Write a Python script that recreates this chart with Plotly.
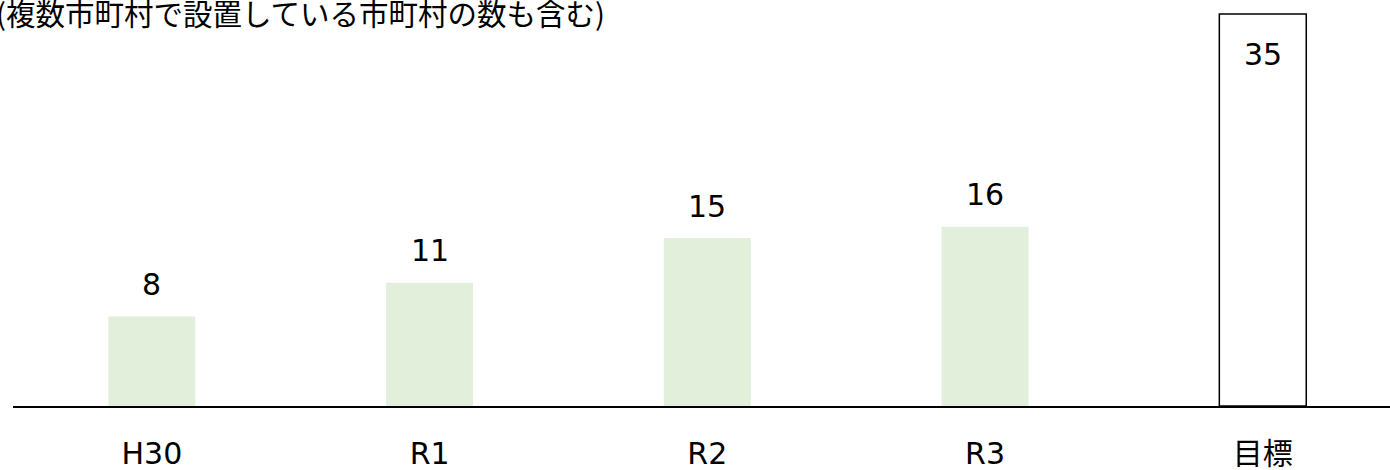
import plotly.graph_objects as go

categories = ["H30", "R1", "R2", "R3", "目標"]
values = [8, 11, 15, 16, 35]
fill_colors = ["#E2EFDA", "#E2EFDA", "#E2EFDA", "#E2EFDA", "#FFFFFF"]
line_colors = ["rgba(0,0,0,0)"] * 4 + ["#000000"]
line_widths = [0, 0, 0, 0, 1.5]
note = "(複数市町村で設置している市町村の数も含む)"

fig = go.Figure()
fig.add_trace(go.Bar(
    x=categories, y=values, width=0.313,
    marker=dict(color=fill_colors, line=dict(color=line_colors, width=line_widths)),
    hoverinfo="skip",
))

for c, v in zip(categories, values):
    inside = v == max(values)
    fig.add_annotation(
        x=c, y=v, text=str(v), showarrow=False,
        yshift=-40 if inside else 32, yanchor="middle",
        font=dict(family="DejaVu Sans", size=30, color="#000000"),
    )

fig.add_annotation(
    xref="paper", yref="paper", x=-0.0139, y=0.9704, xanchor="left", yanchor="middle",
    text=note, showarrow=False,
    font=dict(family="Noto Sans CJK JP", size=29.5, color="#000000"),
)

fig.update_layout(
    width=1390, height=470,
    margin=dict(l=13, r=0, t=0, b=64, autoexpand=False),
    paper_bgcolor="white", plot_bgcolor="white",
    showlegend=False,
    xaxis=dict(
        range=[-0.5, 4.458], showline=True, linecolor="#000000", linewidth=2,
        ticks="outside", ticklen=20, tickcolor="rgba(0,0,0,0)",
        tickfont=dict(family="DejaVu Sans, Noto Sans CJK JP", size=30, color="#000000"),
        showgrid=False, zeroline=False, automargin=False,
    ),
    yaxis=dict(range=[0, 36.25], visible=False, showgrid=False, zeroline=False),
)

fig.write_html("out.html", config={"displayModeBar": False},
               post_script="document.body.style.margin='0';")
